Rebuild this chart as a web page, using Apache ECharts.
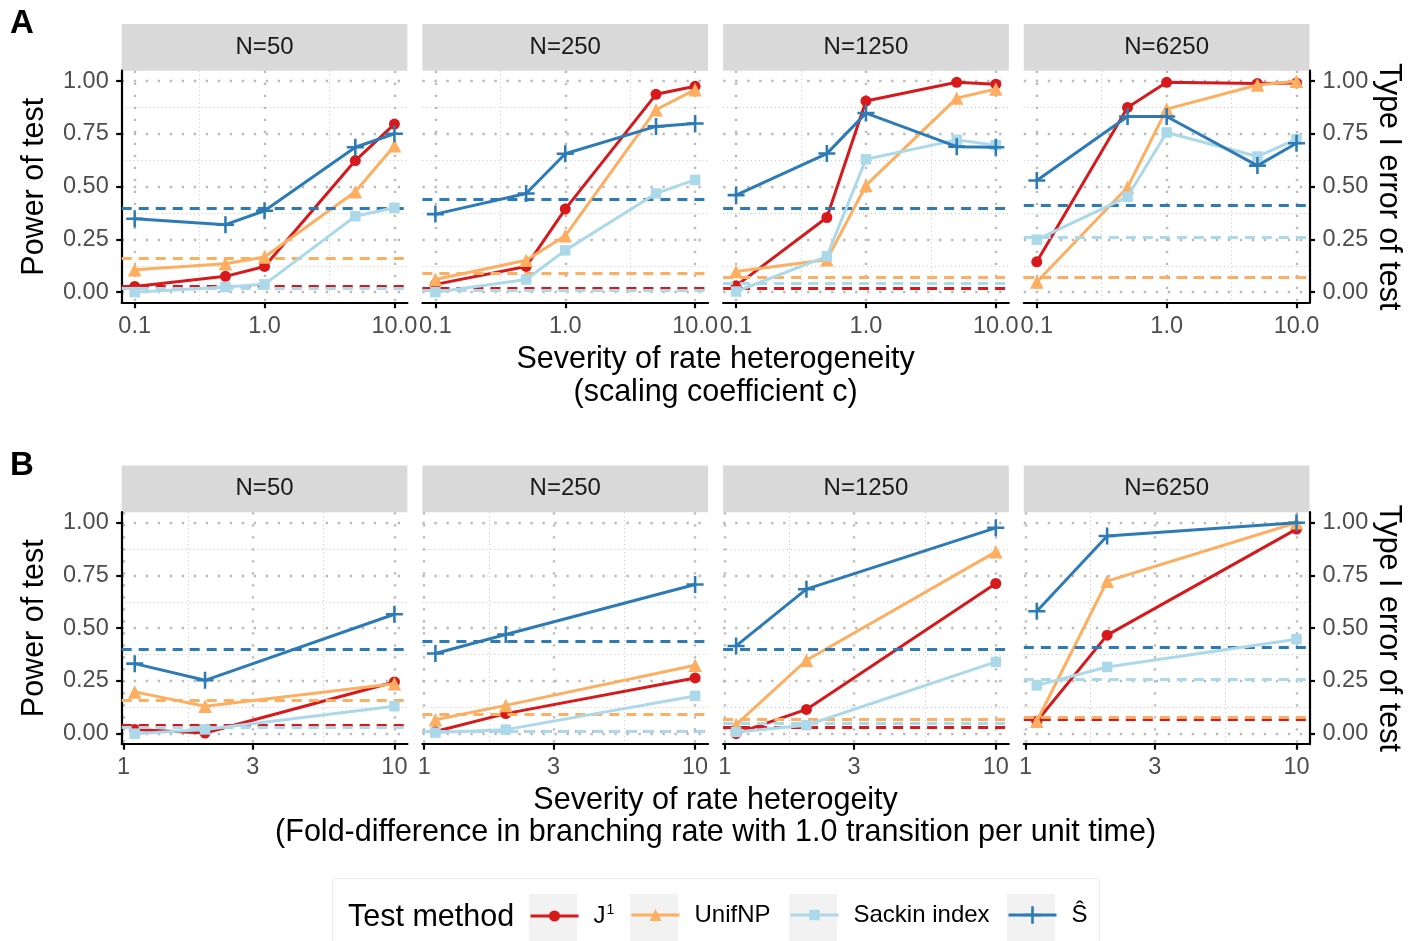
<!DOCTYPE html>
<html><head><meta charset="utf-8">
<script src="https://cdn.jsdelivr.net/npm/echarts@6/dist/echarts.min.js"></script>
<style>html,body{margin:0;padding:0;background:#fff}#c{width:1419px;height:941px}</style>
</head><body><div id="c"></div>
<script>
// ---------- DATA ----------
const facets = ['N=50', 'N=250', 'N=1250', 'N=6250'];
const methods = ['J\u00B9', 'UnifNP', 'Sackin index', '\u015C'];
const xA = [0.1, 0.5, 1, 5, 10];          // scaling coefficient c
const xB = [1.1, 2, 10];                  // fold-difference
const xTicksA = [0.1, 1, 10];
const xTicksB = [1, 3, 10];
const yTicks = [0, 0.25, 0.5, 0.75, 1];

// Panel A power (one row per facet)
const A_J1 = [[0.027, 0.075, 0.122, 0.624, 0.797], [0.037, 0.122, 0.394, 0.938, 0.976], [0.030, 0.354, 0.906, 0.995, 0.986], [0.144, 0.876, 0.995, 0.989, 0.992]];
const A_UnifNP = [[0.106, 0.135, 0.167, 0.476, 0.694], [0.060, 0.151, 0.267, 0.865, 0.960], [0.098, 0.154, 0.506, 0.920, 0.963], [0.048, 0.497, 0.868, 0.982, 1.000]];
const A_Sackin = [[0.000, 0.024, 0.037, 0.360, 0.400], [0.000, 0.060, 0.198, 0.468, 0.532], [0.003, 0.170, 0.630, 0.722, 0.697], [0.249, 0.452, 0.757, 0.643, 0.725]];
const A_Shat = [[0.348, 0.320, 0.386, 0.687, 0.751], [0.370, 0.468, 0.656, 0.786, 0.800], [0.460, 0.657, 0.849, 0.690, 0.687], [0.529, 0.833, 0.833, 0.600, 0.706]];
// Panel A type I error (one per facet)
const A_err_J1 = [0.032, 0.016, 0.024, 0.068];
const A_err_UnifNP = [0.162, 0.092, 0.071, 0.074];
const A_err_Sackin = [0.020, 0.010, 0.043, 0.259];
const A_err_Shat = [0.398, 0.440, 0.400, 0.410];

// Panel B power
const B_J1 = [[0.020, 0.003, 0.245], [0.010, 0.095, 0.264], [0.000, 0.115, 0.712], [0.059, 0.467, 0.970]];
const B_UnifNP = [[0.198, 0.130, 0.237], [0.066, 0.134, 0.324], [0.043, 0.348, 0.862], [0.059, 0.723, 1.000]];
const B_Sackin = [[0.000, 0.020, 0.130], [0.005, 0.019, 0.179], [0.008, 0.040, 0.340], [0.229, 0.316, 0.448]];
const B_Shat = [[0.332, 0.253, 0.566], [0.380, 0.470, 0.707], [0.416, 0.685, 0.976], [0.580, 0.937, 1.000]];
// Panel B type I error
const B_err_J1 = [0.035, 0.014, 0.027, 0.072];
const B_err_UnifNP = [0.163, 0.093, 0.074, 0.078];
const B_err_Sackin = [0.027, 0.008, 0.047, 0.258];
const B_err_Shat = [0.399, 0.438, 0.399, 0.408];

// ---------- STYLE / LAYOUT ----------
const FONT = '"Liberation Sans", Arial, Helvetica, sans-serif';
const TITLE_FONT = '30.5px ' + FONT;
const colors = ['#d7191c', '#fdae61', '#abd9e9', '#2c7bb6'];
const PLUS = 'path://M0,6.8H16V9.2H0Z M6.8,0H9.2V16H6.8Z';
const symbols = ['circle', 'triangle', 'rect', PLUS];
const symbolSizes = [11, 13.5, 10.5, 17];
const legendSymbolSizes = [14, 15, 13, 22];
const gridLefts = [121.7, 422.4, 723.1, 1023.8];
const gridW = 285.7;
const gridTops = [70.7, 512.2];
const gridH = 232;
const stripH = 46.7;

const panels = [
  { x: xA, ticks: xTicksA, minor: [Math.pow(10, -0.5), Math.pow(10, 0.5)],
    min: Math.pow(10, -1.1), max: Math.pow(10, 1.1), fmt: v => v.toFixed(1),
    power: [A_J1, A_UnifNP, A_Sackin, A_Shat], err: [A_err_J1, A_err_UnifNP, A_err_Sackin, A_err_Shat] },
  { x: xB, ticks: xTicksB, minor: [Math.sqrt(3), Math.sqrt(30)],
    min: Math.pow(10, Math.log10(1.1) - 0.048), max: Math.pow(10, 1.048), fmt: v => String(Math.round(v)),
    power: [B_J1, B_UnifNP, B_Sackin, B_Shat], err: [B_err_J1, B_err_UnifNP, B_err_Sackin, B_err_Shat] }
];

const majorGrid = { color: '#bababa', width: 2.4, type: [2.4, 9.6] };
const minorGrid = { color: '#c4c4c4', width: 1, type: [1, 3] };

const grid = [], xAxis = [], yAxis = [], series = [], graphic = [];

panels.forEach((P, p) => {
  facets.forEach((fname, f) => {
    const gi = p * 4 + f;
    grid.push({ left: gridLefts[f], top: gridTops[p], width: gridW, height: gridH });
    xAxis.push({
      type: 'log', logBase: 10, gridIndex: gi, min: P.min, max: P.max,
      axisLine: { show: true, onZero: false, lineStyle: { color: '#000', width: 2.2 } },
      axisTick: { show: true, length: 5.5, lineStyle: { color: '#000', width: 2.2 }, customValues: P.ticks },
      axisLabel: { show: true, customValues: P.ticks, formatter: P.fmt, fontSize: 23.5, color: '#4d4d4d',
                   fontFamily: FONT, margin: 11.5 },
      splitLine: { show: true, lineStyle: majorGrid },
      minorTick: { show: false }, minorSplitLine: { show: false }
    });
    xAxis.push({
      type: 'log', logBase: 10, gridIndex: gi, min: P.min, max: P.max,
      axisLine: { show: false }, axisTick: { show: false, customValues: P.minor },
      axisLabel: { show: false, customValues: P.minor },
      splitLine: { show: true, lineStyle: minorGrid }
    });
    const showY = (f === 0 || f === 3);
    yAxis.push({
      type: 'value', gridIndex: gi, min: -0.05, max: 1.05, position: f === 3 ? 'right' : 'left',
      axisLine: { show: showY, onZero: false, lineStyle: { color: '#000', width: 2.2 } },
      axisTick: { show: showY, length: 5.5, lineStyle: { color: '#000', width: 2.2 }, customValues: yTicks },
      axisLabel: { show: showY, customValues: yTicks, formatter: v => v.toFixed(2), fontSize: 23.5,
                   color: '#4d4d4d', fontFamily: FONT, margin: 13 },
      splitLine: { show: true, lineStyle: majorGrid }
    });
    yAxis.push({
      type: 'value', gridIndex: gi, min: -0.05, max: 1.05,
      axisLine: { show: false }, axisTick: { show: false, customValues: [0.125, 0.375, 0.625, 0.875] },
      axisLabel: { show: false, customValues: [0.125, 0.375, 0.625, 0.875] },
      splitLine: { show: true, lineStyle: minorGrid }
    });
    methods.forEach((m, k) => {
      const vals = P.power[k][f];
      series.push({
        type: 'line', name: m, xAxisIndex: 2 * gi, yAxisIndex: 2 * gi,
        data: P.x.map((x, i) => [x, vals[i]]),
        symbol: symbols[k], symbolSize: symbolSizes[k], showAllSymbol: true,
        color: colors[k], itemStyle: { color: colors[k] },
        lineStyle: { color: colors[k], width: 3 },
        clip: false, z: 3 + k, silent: true,
        markLine: {
          silent: true, symbol: ['none', 'none'], label: { show: false }, animation: false,
          lineStyle: { color: colors[k], width: 2.8, type: [10, 7] },
          emphasis: { disabled: true },
          data: [{ yAxis: P.err[k][f] }]
        }
      });
    });
    graphic.push({ type: 'rect', shape: { x: gridLefts[f], y: gridTops[p] - stripH, width: gridW, height: stripH },
      style: { fill: '#d9d9d9' }, silent: true });
    graphic.push({ type: 'text', x: gridLefts[f] + gridW / 2, y: gridTops[p] - stripH / 2,
      style: { text: fname, font: '24px ' + FONT, fill: '#1a1a1a', align: 'center', verticalAlign: 'middle' }, silent: true });
  });
  const cy = gridTops[p] + gridH / 2;
  graphic.push({ type: 'text', x: 35, y: cy, rotation: Math.PI / 2,
    style: { text: 'Power of test', font: TITLE_FONT, fill: '#000', align: 'center', verticalAlign: 'middle' } });
  graphic.push({ type: 'text', x: 1388, y: cy, rotation: -Math.PI / 2,
    style: { text: 'Type I error of test', font: TITLE_FONT, fill: '#000', align: 'center', verticalAlign: 'middle' } });
});

const cx = (gridLefts[0] + gridLefts[3] + gridW) / 2;
const texts = [
  ['Severity of rate heterogeneity', 360], ['(scaling coefficient c)', 393],
  ['Severity of rate heterogeity', 801], ['(Fold-difference in branching rate with 1.0 transition per unit time)', 833]
];
texts.forEach(t => graphic.push({ type: 'text', x: cx, y: t[1],
  style: { text: t[0], font: TITLE_FONT, fill: '#000', align: 'center', verticalAlign: 'middle' } }));
graphic.push({ type: 'text', x: 10, y: 24, style: { text: 'A', font: 'bold 33px ' + FONT, fill: '#000', verticalAlign: 'middle' } });
graphic.push({ type: 'text', x: 10, y: 466, style: { text: 'B', font: 'bold 33px ' + FONT, fill: '#000', verticalAlign: 'middle' } });

// legend decorations
graphic.push({ type: 'rect', shape: { x: 332.5, y: 878.5, width: 767, height: 80 }, style: { fill: 'none', stroke: '#ebebeb', lineWidth: 1 }, z: -10 });
graphic.push({ type: 'text', x: 348, y: 918, style: { text: 'Test method', font: TITLE_FONT, fill: '#000', verticalAlign: 'middle' } });
const keyLefts = [529, 630, 789, 1007];
keyLefts.forEach(l => graphic.push({ type: 'rect', shape: { x: l, y: 894, width: 48, height: 47 }, style: { fill: '#f2f2f2' }, z: -5 }));

const legend = methods.map((m, k) => ({
  data: [m], left: keyLefts[k], top: 903, padding: 0, itemWidth: 48,
  itemHeight: legendSymbolSizes[k],
  selectedMode: false, itemGap: 0,
  lineStyle: { width: 3 },
  formatter: k === 0 ? '{a|J}{s|1}' : '{a|{name}}',
  textStyle: { fontSize: 24, color: '#000', fontFamily: FONT, padding: [0, 0, 0, 10],
    rich: { a: { fontSize: 24, fontFamily: FONT, color: '#000', lineHeight: 28 },
            s: { fontSize: 14, fontFamily: FONT, color: '#000', lineHeight: 28, padding: [0, 0, 12, 1] } } }
}));

const chart = echarts.init(document.getElementById('c'), null, { renderer: 'canvas' });
chart.setOption({
  animation: false, backgroundColor: '#fff',
  textStyle: { fontFamily: FONT },
  grid, xAxis, yAxis, series, legend, graphic
});
</script></body></html>
